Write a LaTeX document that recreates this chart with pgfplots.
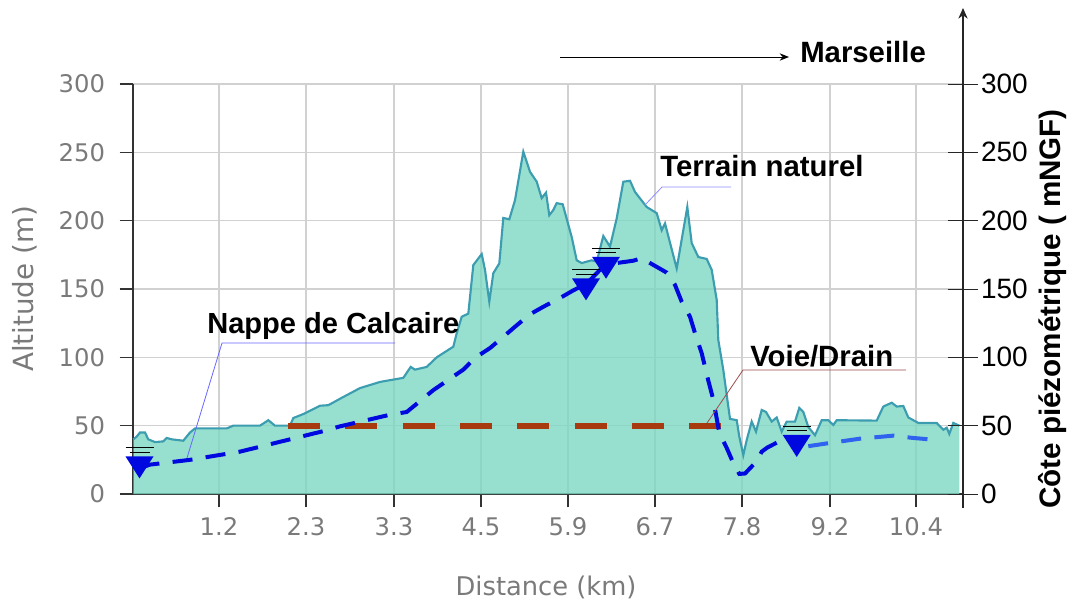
\documentclass[border=0pt]{standalone}
\usepackage{pgfplots}
\usepackage{pgfplotstable}
\usepackage{fontspec}
\usetikzlibrary{arrows.meta}
\pgfplotsset{compat=1.18}
\setmainfont{Liberation Sans}
\newfontfamily\djfont{DejaVu Sans}
\definecolor{fillc}{HTML}{7DD8C4}
\definecolor{linec}{HTML}{3D9DB0}
\definecolor{brownc}{HTML}{A83A10}
\definecolor{bluec}{HTML}{0008E0}
\definecolor{blue2}{HTML}{2F62EE}
\definecolor{grayt}{HTML}{7A7A7A}
\pgfdeclareplotmark{water}{%
  \pgfsetfillcolor{bluec}\pgfsetstrokecolor{bluec}
  \pgfpathmoveto{\pgfpoint{-10.5pt}{0pt}}
  \pgfpathlineto{\pgfpoint{10.5pt}{0pt}}
  \pgfpathlineto{\pgfpoint{0pt}{-16.5pt}}
  \pgfpathclose\pgfusepath{fill}
  \pgfsetstrokecolor{black}\pgfsetlinewidth{0.7pt}
  \pgfpathmoveto{\pgfpoint{-10.5pt}{6.4pt}}\pgfpathlineto{\pgfpoint{10.5pt}{6.4pt}}
  \pgfpathmoveto{\pgfpoint{-7.5pt}{3.2pt}}\pgfpathlineto{\pgfpoint{7.5pt}{3.2pt}}
  \pgfusepath{stroke}}
\pgfplotstableread{
x y
133.3 40
136.7 42
140 45
145 45
148.3 40
155 38
163.3 38.5
166.7 41
171.7 40
183.3 39
190 45
195 48
226.7 48
233.3 50
260 50
268.3 54
275 50
290 50
293.3 55.6
303.3 58.5
320 64.6
328.3 65
343.3 71
360 77.5
380 82
403.3 85
410.7 93
415 91
426.7 93
436.7 100
453.3 107.8
456.7 117.6
461.7 129.7
468.3 132
473.3 167.5
481.7 175.6
485 164
489.3 140.7
493.3 161.6
499.3 168.7
503.3 202
509.3 201
515 215
523.3 250.5
530 235.8
536.7 228.5
541.7 216.5
546 220.5
549.3 204
553.3 207.8
556.7 212.8
562.7 212
571.7 188
576.7 171
581.7 169
591.7 171
596.7 170
603.3 188.8
610 181
616.7 201.7
623.3 228.5
630 229.2
635 221
646.7 210
656.7 205.5
661.7 193
665 198
676.7 165
687.3 210
691.7 183.6
698.3 173.4
706.7 172
711.7 164
716.7 142
718.3 112.7
723.3 90.7
730 55
736.7 54
739.3 42
743.3 28.5
746.7 39.5
751.7 53
756 45.6
761.7 61.5
766 60
771.7 53
776.7 56
781.7 45.6
786.7 53
795 53
799.3 63
803.3 60
808.3 49
815 43
821.7 54
828.3 54
833.3 50.5
836.7 54
876.7 53.7
883.3 64
891.7 66.8
896.7 64
903.3 64.4
908.3 56
918.3 52
936.7 52
943.3 47
946.7 48.5
949.3 44
953.3 52
959.3 50
}\terrain
\pgfplotstableread{
x y
140 19
150 21.5
190 25
206.7 27
240 31
290 40
323.3 46
340 49.5
390 58
406.7 60
433.3 76
463.3 91
475 99.6
490 106.8
503.3 115
515 122.4
530 131.5
543.3 137
560 143.4
573.3 149
586.7 154
600 164
616.7 169
633.3 170.7
641.7 172.6
650 169
666.7 162
675 153
681.7 140.7
690 129.7
695 117.7
701.7 103
708.3 83
713.3 69
719.3 44.7
726.7 33.7
733.3 22.6
739.3 14.7
745 15
756.7 24
761.7 31
767.3 34
783.3 40
796.7 37
}\waterA
\pgfplotstableread{
x y
808.3 35
826.7 37
860 40.5
893.3 42.7
913.3 41
929.3 40
}\waterB
\pgfplotstableread{
x y
139.5 27.5
586 157.8
606 173.6
796.7 43.2
}\levels
\begin{document}
\begin{tikzpicture}
\path[use as bounding box] (0,0) rectangle (804.75pt,-452.25pt);
\begin{axis}[
  at={(99.75pt,-370.5pt)},anchor=south west,
  scale only axis,width=622.5pt,height=307.5pt,
  xmin=133,xmax=963,ymin=0,ymax=300,
  clip=false,
  axis lines=left,
  axis line style={draw=black!80,line width=1.3pt,-},
  xtick={219,306,394,481,568,655,742,830,916},
  xticklabels={1.2,2.3,3.3,4.5,5.9,6.7,7.8,9.2,10.4},
  ytick={0,50,100,150,200,250,300},
  tick style={draw=black!80,line width=1.1pt},
  major tick length=10pt,
  tick align=outside,
  grid=major,
  grid style={draw=black!18,line width=1.1pt},
  /pgf/number format/assume math mode=true,
  tick label style={font=\djfont\fontsize{18.2}{20}\selectfont,text=grayt},
  xticklabel style={yshift=-4pt},
  yticklabel style={xshift=-7.5pt},
  xlabel={Distance (km)},
  ylabel={Altitude (m)},
  xlabel style={font=\djfont\fontsize{19.3}{22}\selectfont,text=grayt,at={(axis description cs:0.4976,0)},anchor=center,yshift=-70pt},
  ylabel style={font=\djfont\fontsize{20.8}{22}\selectfont,text=grayt,at={(axis description cs:-0.13,0.5)},anchor=center},
]
\addplot[fill=fillc,fill opacity=0.8,draw=none] table[x=x,y=y]{\terrain} \closedcycle;
\addplot[draw=linec,line width=1.6pt] table[x=x,y=y]{\terrain};
\addplot[draw=brownc,line width=4.6pt,dash pattern=on 24pt off 19pt] coordinates {(288,50) (722,50)};
\addplot[draw=bluec,line width=3pt,dash pattern=on 15pt off 10pt] table[x=x,y=y]{\waterA};
\addplot[draw=blue2,line width=3pt,dash pattern=on 15pt off 10pt] table[x=x,y=y]{\waterB};
\addplot[only marks,mark=water] table[x=x,y=y]{\levels};
\end{axis}
\begin{axis}[
  at={(99.75pt,-370.5pt)},anchor=south west,
  scale only axis,width=622.5pt,height=307.5pt,
  xmin=133,xmax=963,ymin=0,ymax=300,
  axis y line*=right,axis x line=none,
  axis line style={draw=none},
  ytick={0,50,100,150,200,250,300},
  tick style={draw=black!85,line width=0.7pt},
  major tick length=22pt,
  tick align=center,
  /pgf/number format/assume math mode=true,
  tick label style={font=\fontsize{21}{24}\selectfont,text=black},
  yticklabel style={xshift=-1pt},
]
\addplot[draw=none] coordinates {(133,0) (963,300)};
\end{axis}
\begin{scope}[x=0.75pt,y=-0.75pt]
\draw[black!85,line width=0.8pt,-{Stealth[length=8pt,width=7pt]}] (963,508) -- (963,8);
\draw[black,line width=0.7pt,-{Stealth[length=7pt,width=5.5pt]}] (560,57) -- (789,57);
\draw[blue!60!white,line width=0.6pt] (187,458) -- (222,343) -- (395,343);
\draw[blue!45!white,line width=0.6pt] (645,205) -- (662,187) -- (731,187);
\draw[red!45!black!70,line width=0.6pt] (707,423) -- (743,370) -- (906,370);
\node[font=\bfseries\fontsize{21.8}{24}\selectfont,anchor=west,inner sep=0pt] at (207,326) {Nappe de Calcaire};
\node[font=\bfseries\fontsize{22}{24}\selectfont,anchor=west,inner sep=0pt] at (660,166) {Terrain naturel};
\node[font=\bfseries\fontsize{22}{24}\selectfont,anchor=west,inner sep=0pt] at (750,356) {Voie/Drain};
\node[font=\bfseries\fontsize{22}{24}\selectfont,anchor=west,inner sep=0pt] at (800,52) {Marseille};
\node[font=\bfseries\fontsize{22.2}{24}\selectfont,rotate=90,inner sep=0pt] at (1053,309) {Côte piézométrique ( mNGF)};
\end{scope}
\end{tikzpicture}
\end{document}
